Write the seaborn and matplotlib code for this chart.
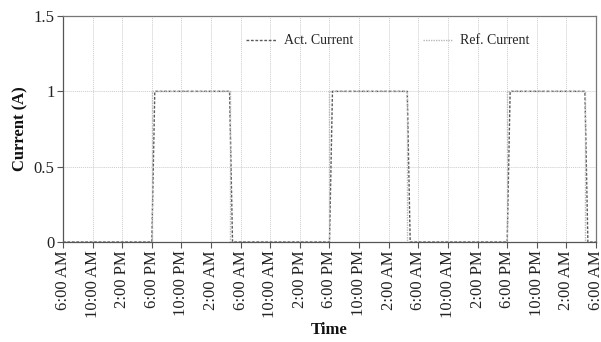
import matplotlib
matplotlib.use("Agg")
import matplotlib.pyplot as plt
import seaborn as sns
import pandas as pd

# Data (hours since 6:00 AM of day 1)
act_hours = [0, 12.0, 12.4, 22.5, 22.9, 36.0, 36.4, 46.5, 46.9, 60.0, 60.4, 70.5, 70.9, 72]
act_current = [0, 0, 1, 1, 0, 0, 1, 1, 0, 0, 1, 1, 0, 0]
ref_hours = [0, 12.0, 12.0, 22.5, 22.5, 36.0, 36.0, 46.5, 46.5, 60.0, 60.0, 70.5, 70.5, 72]
ref_current = [0, 0, 1, 1, 0, 0, 1, 1, 0, 0, 1, 1, 0, 0]
tick_hours = list(range(0, 73, 4))
tick_labels = ["6:00 AM", "10:00 AM", "2:00 PM", "6:00 PM", "10:00 PM", "2:00 AM"] * 3 + ["6:00 AM"]
y_ticks = [0, 0.5, 1, 1.5]
y_tick_labels = ["0", "0.5", "1", "1.5"]

sns.set_theme(style="white")
plt.rcParams['font.family'] = ['Liberation Serif', 'DejaVu Serif']

fig = plt.figure(figsize=(6.01, 3.42), dpi=100)
ax = fig.add_axes([0.1048, 0.2924, 0.8869, 0.6608])

act_df = pd.DataFrame({"t": act_hours, "v": act_current})
ref_df = pd.DataFrame({"t": ref_hours, "v": ref_current})

sns.lineplot(data=act_df, x="t", y="v", ax=ax, estimator=None, sort=False,
             color="#5a5a5a", linewidth=1.0, linestyle=(0, (2.0, 1.2)),
             label="Act. Current", zorder=3)
sns.lineplot(data=ref_df, x="t", y="v", ax=ax, estimator=None, sort=False,
             color="#b8b8b8", linewidth=1.0, linestyle=(0, (1.0, 0.8)),
             label="Ref. Current", zorder=4)

ax.set_xlim(0, 72)
ax.set_ylim(0, 1.5)
ax.set_xticks(tick_hours)
ax.set_xticklabels(tick_labels, rotation=90, fontsize=12)
ax.set_yticks(y_ticks)
ax.set_yticklabels(y_tick_labels, fontsize=12)
ax.tick_params(axis="both", direction="out", length=4, width=0.8, color="#555555",
               pad=2, labelcolor="#222222")
ax.tick_params(axis="x", bottom=True)
ax.tick_params(axis="y", left=True)

ax.grid(True, which="major", color="#cccccc", linestyle=(0, (1, 1)), linewidth=0.7)
for side, sp in ax.spines.items():
    sp.set_visible(True)
    sp.set_linewidth(0.9)
    sp.set_color("#777777" if side in ("top", "right") else "#555555")

ax.set_xlabel("Time", fontsize=12, fontweight="bold", color="#111111", labelpad=3)
ax.set_ylabel("Current (A)", fontsize=12, fontweight="bold", color="#111111", labelpad=4)

ax.legend(ncol=2, frameon=False, fontsize=10, loc="center",
          bbox_to_anchor=(388 / 601, 1 - 41 / 342), bbox_transform=fig.transFigure,
          handlelength=2.2, handletextpad=0.5, columnspacing=5.0)

fig.savefig("out.png", dpi=100)
